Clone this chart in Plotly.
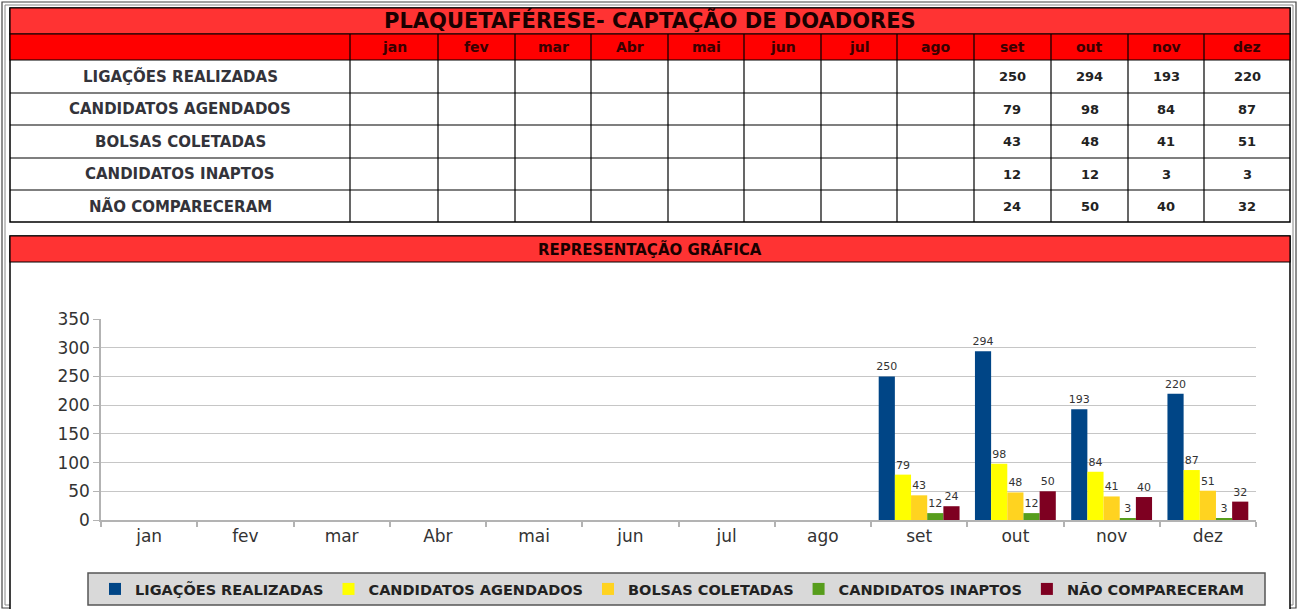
import plotly.graph_objects as go

W, H = 1299, 609

# ---------------- data ----------------
months = ["jan", "fev", "mar", "Abr", "mai", "jun", "jul", "ago", "set", "out", "nov", "dez"]
series_names = ["LIGAÇÕES REALIZADAS", "CANDIDATOS AGENDADOS", "BOLSAS COLETADAS",
                "CANDIDATOS INAPTOS", "NÃO COMPARECERAM"]
ligacoes = [None, None, None, None, None, None, None, None, 250, 294, 193, 220]
agendados = [None, None, None, None, None, None, None, None, 79, 98, 84, 87]
bolsas = [None, None, None, None, None, None, None, None, 43, 48, 41, 51]
inaptos = [None, None, None, None, None, None, None, None, 12, 12, 3, 3]
nao_compareceram = [None, None, None, None, None, None, None, None, 24, 50, 40, 32]
series_values = [ligacoes, agendados, bolsas, inaptos, nao_compareceram]
series_colors = ["#004586", "#FFFF00", "#FFD320", "#579D1C", "#7E0021"]

table_title = "PLAQUETAFÉRESE- CAPTAÇÃO DE DOADORES"
chart_title = "REPRESENTAÇÃO GRÁFICA"

FONT = "DejaVu Sans"

# ---------------- layout helpers (pixels -> paper) ----------------
def px(x):
    return x / W

def py(y):
    return 1 - y / H

shapes = []
annotations = []

def rect(x0, y0, x1, y1, fill="rgba(0,0,0,0)", lc="#000000", lw=1.2):
    shapes.append(dict(type="rect", xref="paper", yref="paper", layer="below",
                       x0=px(x0), x1=px(x1), y0=py(y0), y1=py(y1),
                       fillcolor=fill, line=dict(color=lc, width=lw)))

def line(x0, y0, x1, y1, lc="#000000", lw=1.2):
    shapes.append(dict(type="line", xref="paper", yref="paper", layer="below",
                       x0=px(x0), x1=px(x1), y0=py(y0), y1=py(y1),
                       line=dict(color=lc, width=lw)))

def text(x, y, s, size, color="#222222", bold=True):
    annotations.append(dict(xref="paper", yref="paper", x=px(x), y=py(y),
                            text=("<b>%s</b>" % s) if bold else s, showarrow=False,
                            xanchor="center", yanchor="middle",
                            font=dict(size=size, color=color, family=FONT)))

# outer double frame
rect(2, 2, 1296, 608, lc="#444444", lw=1.2)
rect(5, 5, 1293, 605, lc="#888888", lw=1)

# ---------------- table ----------------
tx0, tx1 = 10, 1290
col_edges = [10, 350, 438, 515, 591, 668, 744, 821, 897, 974, 1051, 1128, 1204, 1290]
row_edges = [60, 93, 125, 158, 190, 222]

rect(tx0, 8, tx1, 222, fill="#FFFFFF", lw=1.5)
rect(tx0, 8, tx1, 34, fill="#FF3333", lw=1.2)
rect(tx0, 34, tx1, 60, fill="#FF0000", lw=1.2)
for yb in row_edges[1:-1]:
    line(tx0, yb, tx1, yb)
for xb in col_edges[1:-1]:
    line(xb, 34, xb, 222)

text((tx0 + tx1) / 2, 21, table_title, 21, color="#1a0000")
for i, m in enumerate(months):
    cx = (col_edges[i + 1] + col_edges[i + 2]) / 2
    text(cx, 47, m, 14, color="#3a0000")

for r, name in enumerate(series_names):
    cy = (row_edges[r] + row_edges[r + 1]) / 2
    text((col_edges[0] + col_edges[1]) / 2, cy, name, 15, color="#33333a")
    for i, v in enumerate(series_values[r]):
        if v is not None:
            cx = (col_edges[i + 1] + col_edges[i + 2]) / 2
            text(cx, cy, str(v), 13, color="#222222")

# ---------------- chart section frame ----------------
rect(tx0, 236, tx1, 614, fill="#FFFFFF", lw=1.5)
rect(tx0, 236, tx1, 262, fill="#FF3333", lw=1.2)
text((tx0 + tx1) / 2, 249, chart_title, 15, color="#1a0000")

# legend box
rect(88, 573, 1265, 605, fill="#D9D9D9", lc="#555555", lw=1.5)

# ---------------- bars ----------------
fig = go.Figure()
for name, vals, col in zip(series_names, series_values, series_colors):
    fig.add_trace(go.Bar(
        x=months, y=vals, name=name, marker=dict(color=col, line=dict(width=0)),
        text=[("%d" % v) if v is not None else "" for v in vals],
        textposition="outside", cliponaxis=False, constraintext="none",
        textfont=dict(size=11, color="#333333", family=FONT),
    ))

fig.update_layout(
    width=W, height=H,
    margin=dict(l=0, r=0, t=0, b=0, autoexpand=False),
    paper_bgcolor="#FFFFFF",
    plot_bgcolor="rgba(0,0,0,0)",
    barmode="group", bargap=0.16, bargroupgap=0,
    shapes=shapes, annotations=annotations,
    showlegend=True,
    legend=dict(orientation="h", x=px(672), y=py(589), xanchor="center", yanchor="middle",
                bgcolor="rgba(0,0,0,0)", borderwidth=0, itemwidth=30,
                font=dict(size=14.5, color="#222222", family=FONT, weight="bold"),
                traceorder="normal"),
    xaxis=dict(domain=[px(101), px(1256)], showgrid=False, showline=True, automargin=False,
               linecolor="#b3b3b3", linewidth=1.5, ticks="outside", tickson="boundaries",
               ticklen=5, tickcolor="#b3b3b3", tickwidth=1.5,
               tickfont=dict(size=17, color="#333333", family=FONT)),
    yaxis=dict(domain=[1 - 520 / H, 1 - 319 / H], range=[0, 350], dtick=50, automargin=False,
               showgrid=True, gridcolor="#c6c6c6", gridwidth=1.2, zeroline=False,
               showline=True, linecolor="#b3b3b3", linewidth=1.5, ticks="outside",
               ticklen=6, tickcolor="#b3b3b3",
               tickfont=dict(size=17, color="#333333", family=FONT)),
)

fig.write_html("out.html", config={"displayModeBar": False},
               post_script="document.body.style.margin='0px';")
